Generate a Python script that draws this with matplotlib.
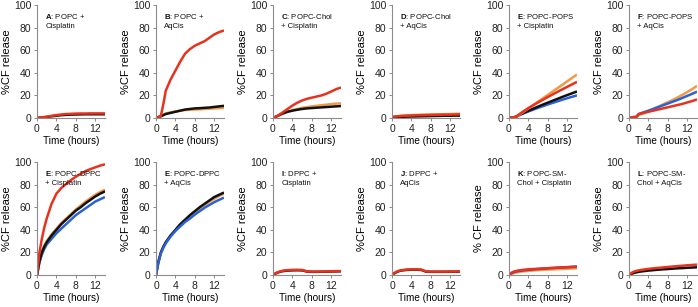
import matplotlib

matplotlib.use("Agg")

import matplotlib.pyplot as plt  # noqa: E402

plt.rcParams["font.family"] = ["Liberation Sans", "DejaVu Sans"]
plt.rcParams["mathtext.fontset"] = "custom"
plt.rcParams["mathtext.rm"] = "Liberation Sans"
plt.rcParams["mathtext.bf"] = "Liberation Sans:bold"

RED = "#e8321e"
ORANGE = "#f19a45"
BLACK = "#111111"
BLUE = "#2a62d6"
PURPLE = "#5a3f9e"

# tiempo (h) comun a todas las series
T = [0, 0.5, 1, 1.5, 2, 3, 4, 5, 6, 7, 8, 9, 10, 11, 12, 13, 14]

# --- fila superior ---
a_black = [0, 0.2, 0.4, 0.6, 0.9, 1.5, 2.0, 2.5, 2.8, 3.0, 3.1, 3.2, 3.3, 3.3, 3.3, 3.3, 3.3]
a_red = [0, 0.3, 0.6, 0.9, 1.2, 1.9, 2.6, 3.1, 3.5, 3.7, 3.9, 4.0, 4.0, 4.1, 4.1, 4.1, 4.1]

b_orange = [0, 1, 2, 3, 4, 5, 5.8, 6.5, 7, 7.3, 7.5, 7.7, 8, 8.2, 8.5, 8.8, 9]
b_black = [0, 0.8, 1.5, 2.5, 3.5, 4.5, 5.5, 6.5, 7.5, 8, 8.5, 8.7, 9, 9.3, 9.8, 10.3, 10.8]
b_red = [0, 0.5, 2, 12, 24, 34, 42, 50, 57, 61, 64, 66, 68, 71, 74, 76, 77.5]

c_orange = [0, 1, 2, 3, 4, 5.5, 7, 8, 9, 9.7, 10.3, 10.8, 11.3, 11.8, 12.3, 12.7, 13]
c_black = [0, 1, 2, 3, 4, 5.5, 6.5, 7.3, 8, 8.5, 8.8, 9.1, 9.4, 9.7, 10, 10.3, 10.6]
c_red = [0, 1, 2, 3.5, 5, 8, 11, 13.5, 15.5, 17, 18, 19, 20, 21.5, 23.5, 25.5, 27]

d_orange = [1, 1.3, 1.5, 1.8, 2, 2.3, 2.5, 2.7, 2.9, 3.0, 3.1, 3.2, 3.3, 3.4, 3.5, 3.6, 3.8]
d_black = [0.5, 0.7, 0.8, 0.9, 1, 1.2, 1.3, 1.4, 1.5, 1.6, 1.7, 1.8, 1.9, 2, 2, 2.1, 2.1]
d_red = [1, 1.2, 1.4, 1.6, 1.8, 2, 2.2, 2.4, 2.5, 2.6, 2.7, 2.8, 2.9, 3, 3, 3.1, 3.2]

e_blue = [0, 0.3, 0.6, 1.2, 2.3, 4.1, 5.8, 7.4, 9, 10.5, 12, 13.4, 14.8, 16.2, 17.5, 18.8, 20]
e_black = [0, 0.3, 0.6, 1.2, 2.5, 4.5, 6.4, 8.3, 10.1, 11.9, 13.6, 15.3, 17, 18.7, 20.3, 21.9, 23.5]
e_orange = [0, 0.3, 0.6, 1.2, 2.5, 5.5, 8.5, 11.5, 14.5, 17.5, 20.5, 23.5, 26.5, 29.5, 32.5, 35.5, 38.5]
e_red = [0, 0.3, 0.6, 1.2, 3, 6, 8.8, 11.3, 13.8, 16.2, 18.6, 20.9, 23.2, 25.4, 27.6, 29.8, 32]

f_orange = [0, 0.2, 0.5, 0.8, 2.5, 4.2, 6, 8, 10, 12, 14, 16, 18.2, 20.5, 23, 25.5, 28.5]
f_blue = [0, 0.3, 0.6, 1, 3.5, 5, 6.5, 8, 9.6, 11.2, 12.8, 14.4, 16, 17.8, 19.6, 21.4, 23.3]
f_red = [0, 0.5, 1, 1, 3.5, 4.5, 5.5, 6.5, 7.5, 8.5, 9.5, 10.5, 11.5, 12.5, 13.8, 15, 16.5]

# --- fila inferior ---
g_blue = [0, 11, 18, 23, 27, 32, 37, 41, 45, 49, 53, 56, 59, 62, 65, 67, 69]
g_orange = [0, 13, 21, 26, 30, 36, 41, 46, 50, 54, 58, 61.5, 65, 68, 71, 73.5, 75.5]
g_black = [0, 12, 20, 25, 29, 35, 40, 45, 49, 53, 57, 60, 63.5, 66.5, 69.5, 72, 74]
g_red = [0, 20, 32, 42, 50, 63, 72, 77, 80.5, 84, 87, 89.5, 92, 93.7, 95.3, 96.8, 98]

h_orange = [0, 11.5, 19.5, 24.5, 28.5, 34.5, 39.5, 44, 48, 52, 55.5, 59, 62, 65, 67.5, 70, 72]
h_black = [0, 12, 20, 25, 29, 35, 40, 45, 49, 53, 56.5, 60, 63, 66, 69, 71, 73]
h_blue = [0, 11, 19, 24, 28, 34, 39, 43, 47, 50, 53.5, 56.5, 59.5, 62, 64.5, 66.5, 68.5]

i_black = [0, 1.2, 2.2, 2.9, 3.4, 3.9, 4.1, 4.2, 4.1, 3.0, 2.8, 2.8, 2.9, 3.0, 3.1, 3.2, 3.3]
i_red = [0, 1.5, 2.5, 3.2, 3.8, 4.3, 4.5, 4.6, 4.5, 3.2, 3.0, 3.0, 3.1, 3.2, 3.3, 3.4, 3.5]

j_black = [0, 1.5, 2.7, 3.5, 4.0, 4.5, 4.7, 4.7, 4.5, 3.0, 2.8, 2.8, 2.8, 2.8, 2.9, 2.9, 3.0]
j_red = [0, 1.8, 3, 3.8, 4.3, 4.8, 5, 5, 4.8, 3.2, 3, 3, 3, 3, 3.1, 3.1, 3.2]

k_orange = [0, 1, 1.8, 2.3, 2.7, 3.2, 3.6, 4, 4.3, 4.6, 4.8, 5, 5.2, 5.4, 5.6, 5.8, 6]
k_purple = [0, 1.5, 2.5, 3.1, 3.5, 4.1, 4.6, 5, 5.3, 5.6, 6, 6.2, 6.5, 6.8, 7, 7.3, 7.5]
k_red = [0, 2, 3, 3.6, 4, 4.6, 5, 5.3, 5.5, 5.8, 6, 6.2, 6.4, 6.6, 6.8, 7, 7.2]

l_black = [0, 1, 1.8, 2.3, 2.8, 3.4, 3.9, 4.3, 4.7, 5, 5.3, 5.6, 5.9, 6.1, 6.4, 6.6, 6.8]
l_red = [0, 1.8, 3, 3.6, 4.1, 4.8, 5.4, 5.9, 6.3, 6.7, 7.1, 7.5, 7.9, 8.2, 8.6, 8.9, 9.2]

letters = ["A", "B", "C", "D", "E", "F", "E", "E", "I", "J", "K", "L"]
captions = [
    "POPC +\nCisplatin", "POPC +\nAqCis",
    "POPC-Chol\n+ Cisplatin", "POPC-Chol\n+ AqCis",
    "POPC-POPS\n+ Cisplatin", "POPC-POPS\n+ AqCis",
    "POPC-DPPC\n+ Cisplatin", "POPC-DPPC\n+ AqCis",
    "DPPC +\nCisplatin", "DPPC +\nAqCis",
    "POPC-SM-\nChol + Cisplatin", "POPC-SM-\nChol + AqCis",
]
ylabels = ["%CF release"] * 10 + ["% CF release", "%CF release"]

# series por panel, en orden de dibujo (la ultima queda encima)
panels = [
    [(a_black, BLACK), (a_red, RED)],
    [(b_orange, ORANGE), (b_black, BLACK), (b_red, RED)],
    [(c_orange, ORANGE), (c_black, BLACK), (c_red, RED)],
    [(d_orange, ORANGE), (d_black, BLACK), (d_red, RED)],
    [(e_blue, BLUE), (e_black, BLACK), (e_orange, ORANGE), (e_red, RED)],
    [(f_orange, ORANGE), (f_blue, BLUE), (f_red, RED)],
    [(g_blue, BLUE), (g_orange, ORANGE), (g_black, BLACK), (g_red, RED)],
    [(h_orange, ORANGE), (h_black, BLACK), (h_blue, BLUE)],
    [(i_black, BLACK), (i_red, RED)],
    [(j_black, BLACK), (j_red, RED)],
    [(k_orange, ORANGE), (k_purple, PURPLE), (k_red, RED)],
    [(l_black, BLACK), (l_red, RED)],
]

W, H = 698, 307
fig = plt.figure(figsize=(W / 100, H / 100), dpi=100)
lefts = [37, 156, 273, 392, 509, 629]
tops = [5, 162]
aw, ah = 68, 113

for idx, series in enumerate(panels):
    row, col = divmod(idx, 6)
    x0 = lefts[col] / W
    y0 = (H - tops[row] - ah) / H
    ax = fig.add_axes([x0, y0, aw / W, ah / H])
    for vals, color in series:
        ax.plot(T, vals, color=color, lw=1.8, solid_capstyle="butt")
    ax.set_xlim(0, 14)
    ax.set_ylim(0, 100)
    ax.set_xticks([0, 4, 8, 12])
    ax.set_yticks([0, 20, 40, 60, 80, 100])
    for side in ("top", "right"):
        ax.spines[side].set_visible(False)
    for side in ("left", "bottom"):
        ax.spines[side].set_color("#8c8c8c")
        ax.spines[side].set_linewidth(0.8)
    ax.tick_params(direction="out", length=2.5, width=0.7, color="#8c8c8c",
                   labelsize=7.5, labelcolor="#222222", pad=1.5)
    ax.set_xlabel("Time (hours)", fontsize=7.2, labelpad=2)
    ax.set_ylabel(ylabels[idx], fontsize=8, labelpad=1.5)
    ax.text(0.12, 0.94, r"$\mathbf{%s}$: %s" % (letters[idx], captions[idx]),
            transform=ax.transAxes, ha="left", va="top", fontsize=5.6,
            linespacing=1.35, color="#111111")

fig.savefig("out.png", dpi=100)
plt.close(fig)
